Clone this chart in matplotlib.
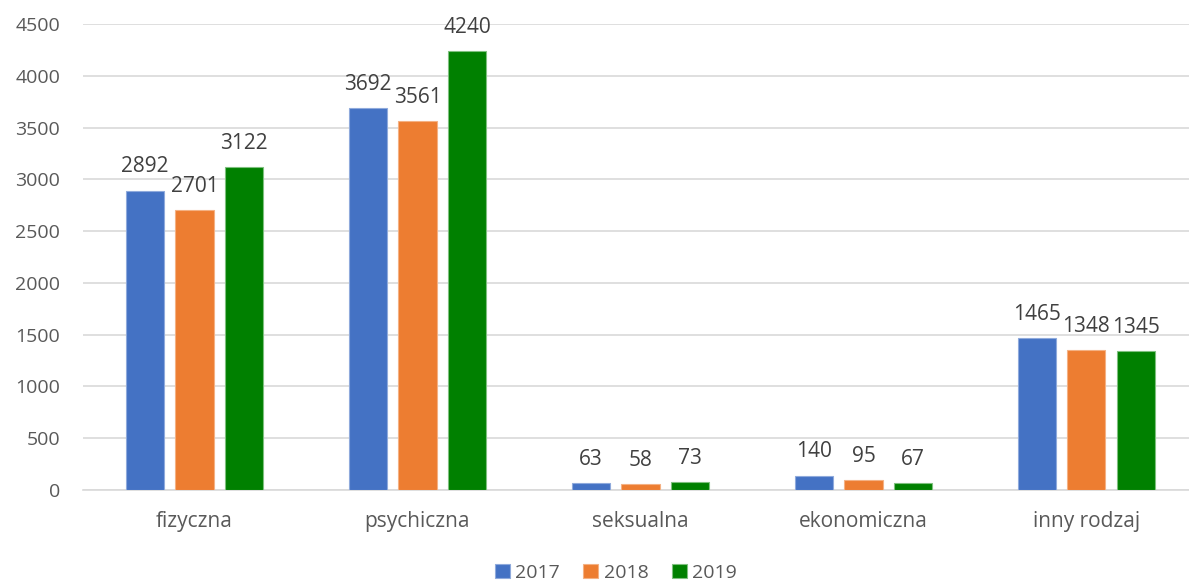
import matplotlib
matplotlib.use("Agg")
import matplotlib.pyplot as plt
import numpy as np

categories = ["fizyczna", "psychiczna", "seksualna", "ekonomiczna", "inny rodzaj"]
years = ["2017", "2018", "2019"]
values_2017 = [2892, 3692, 63, 140, 1465]
values_2018 = [2701, 3561, 58, 95, 1348]
values_2019 = [3122, 4240, 73, 67, 1345]
colors = ["#4472C4", "#ED7D31", "#008000"]
edges = ["#8FAADC", "#F4B183", "#7FC07F"]

plt.rcParams["font.family"] = ["Open Sans", "DejaVu Sans"]

W, H = 1189, 581
fig = plt.figure(figsize=(W / 100, H / 100), dpi=100)
left, right = 83, 1189
bottom, top = 490, 24
ax = fig.add_axes([left / W, 1 - bottom / H, (right - left) / W, (bottom - top) / H])

x = np.arange(len(categories))
bar_w = 0.171
step = 0.222
series = [values_2017, values_2018, values_2019]
for i, (vals, yr, c, e) in enumerate(zip(series, years, colors, edges)):
    pos = x + (i - 1) * step
    bars = ax.bar(pos, vals, width=bar_w, color=c, edgecolor=e, linewidth=0.8,
                  label=yr, zorder=3)
    for b, v in zip(bars, vals):
        ax.annotate(str(v), (b.get_x() + b.get_width() / 2, v), xytext=(0, 13),
                    textcoords="offset points", ha="center", va="baseline",
                    fontsize=15, color="#404040")

ax.set_xlim(-0.5, 4.46)
ax.set_ylim(0, 4500)
ax.set_yticks(range(0, 4501, 500))
ax.set_xticks(x)
ax.set_xticklabels(categories, fontsize=15)
ax.grid(axis="y", color="#D9D9D9", linewidth=1.2, zorder=0)
for s in ["top", "right", "left"]:
    ax.spines[s].set_visible(False)
ax.spines["bottom"].set_color("#D9D9D9")
ax.spines["bottom"].set_linewidth(1.2)
ax.tick_params(axis="both", length=0, colors="#595959")
ax.tick_params(axis="y", labelsize=14, pad=16.5)
ax.tick_params(axis="x", pad=15)

fig.legend(loc="center", bbox_to_anchor=(616 / W, 1 - 573 / H), ncol=3, frameon=False,
           fontsize=14, handlelength=0.75, handleheight=0.75, handletextpad=0.3,
           columnspacing=1.2, labelcolor="#595959")

fig.savefig("out.png", dpi=100)
